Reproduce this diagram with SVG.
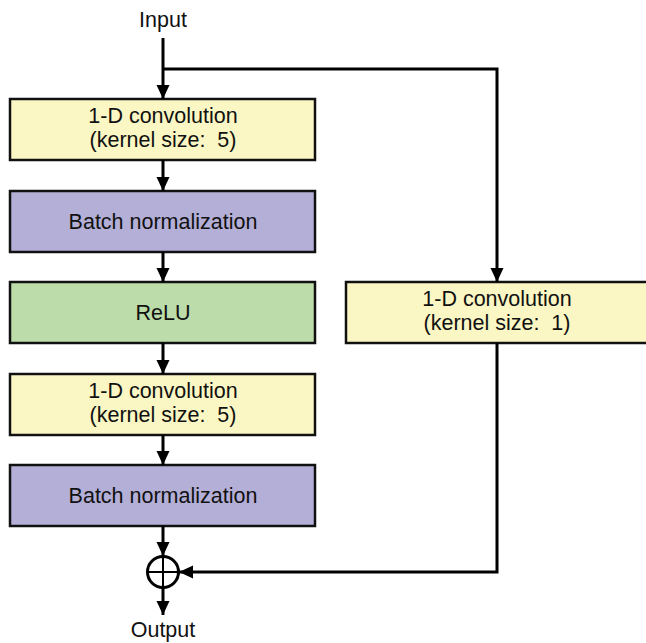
<svg xmlns="http://www.w3.org/2000/svg" width="646" height="643" viewBox="0 0 646 643">
  <style>
    .box { stroke: #111; stroke-width: 2.5; }
    .conv { fill: #FBF7C4; }
    .bn { fill: #B4AFD7; }
    .relu { fill: #BCDDAA; }
    text { font-family: "Liberation Sans", Arial, Helvetica, sans-serif; font-size: 21.5px; fill: #111; text-anchor: middle; white-space: pre; }
    .wire { fill: none; stroke: #000; stroke-width: 3; }
  </style>
  <defs>
    <marker id="arrow" markerUnits="userSpaceOnUse" markerWidth="14" markerHeight="14" refX="14" refY="7" orient="auto">
      <path d="M0,0.5 L14,7 L0,13.5 z" fill="#000"/>
    </marker>
  </defs>
  <rect width="646" height="643" fill="#fff"/>

  <g id="input-label"><text x="163" y="27">Input</text></g>

  <g id="conv1">
    <rect class="box conv" x="10" y="99" width="305" height="61"/>
    <text x="163" y="123">1-D convolution</text>
    <text x="163" y="147" xml:space="preserve">(kernel size:  5)</text>
  </g>
  <g id="bn1">
    <rect class="box bn" x="10" y="191" width="305" height="61"/>
    <text x="163" y="229">Batch normalization</text>
  </g>
  <g id="relu">
    <rect class="box relu" x="10" y="282" width="305" height="61"/>
    <text x="163" y="320">ReLU</text>
  </g>
  <g id="conv2">
    <rect class="box conv" x="10" y="374" width="305" height="61"/>
    <text x="163" y="398">1-D convolution</text>
    <text x="163" y="422" xml:space="preserve">(kernel size:  5)</text>
  </g>
  <g id="bn2">
    <rect class="box bn" x="10" y="465" width="305" height="61"/>
    <text x="163" y="503">Batch normalization</text>
  </g>
  <g id="conv-shortcut">
    <rect class="box conv" x="346" y="282" width="310" height="61"/>
    <text x="497" y="306">1-D convolution</text>
    <text x="497" y="330" xml:space="preserve">(kernel size:  1)</text>
  </g>
  <g id="add">
    <circle cx="163" cy="572" r="15.5" fill="#fff" stroke="#000" stroke-width="3"/>
    <path d="M147.5,572 H178.5 M163,556.5 V587.5" stroke="#000" stroke-width="2"/>
  </g>
  <g id="output-label"><text x="163" y="637">Output</text></g>

  <g id="connectors">
    <path class="wire" d="M163,38 V99" marker-end="url(#arrow)"/>
    <path class="wire" d="M163,69 H497 V282" marker-end="url(#arrow)"/>
    <path class="wire" d="M163,160 V191" marker-end="url(#arrow)"/>
    <path class="wire" d="M163,252 V282" marker-end="url(#arrow)"/>
    <path class="wire" d="M163,343 V374" marker-end="url(#arrow)"/>
    <path class="wire" d="M163,435 V465" marker-end="url(#arrow)"/>
    <path class="wire" d="M163,526 V556" marker-end="url(#arrow)"/>
    <path class="wire" d="M497,343 V572 H179" marker-end="url(#arrow)"/>
    <path class="wire" d="M163,588 V615" marker-end="url(#arrow)"/>
  </g>
</svg>
